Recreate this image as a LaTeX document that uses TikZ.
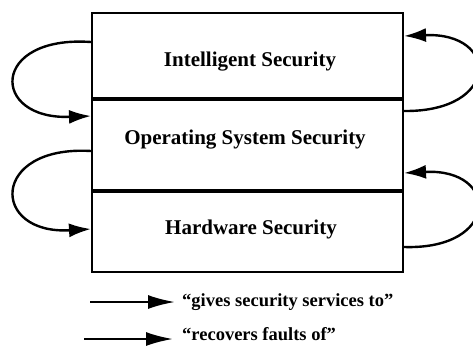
\documentclass[tikz,border=0pt]{standalone}
\usepackage{fontspec}
\setmainfont{Liberation Serif}
\usetikzlibrary{arrows.meta}
\begin{document}
\begin{tikzpicture}[x=1pt,y=-1pt,
  sect/.style={draw,line width=2pt,minimum width=311pt,inner sep=0pt},
  lbl/.style={font=\fontsize{21}{24}\selectfont\bfseries},
  arr/.style={line width=2.4pt,-{Latex[length=22pt,width=14pt]}},
  legarr/.style={line width=2.2pt,-{Latex[length=27pt,width=14pt]}},
  legtext/.style={anchor=base west,inner sep=0pt,font=\fontsize{18.5}{22}\selectfont\bfseries}]
\useasboundingbox (0,0) rectangle (473,349);
\node[sect,minimum height=85pt] (s1) at (247.5,55.5) {};
\node[sect,minimum height=92pt] (s2) at (247.5,144) {};
\node[sect,minimum height=82pt] (s3) at (247.5,231) {};
\node[lbl] (t1) at (250,62) {Intelligent Security};
\node[lbl] (t2) at (245,140) {Operating System Security};
\node[lbl] (t3) at (251,229) {Hardware Security};
\draw[line width=4pt] (s1.south west) -- (s1.south east);
\draw[line width=4pt] (s2.south west) -- (s2.south east);
% left arrows: gives security services to
\draw[arr] ([yshift=-30pt]s1.north west) .. controls (-10,35) and (-10,120) .. ([yshift=-19pt]s2.north west);
\draw[arr] ([yshift=-54pt]s2.north west) .. controls (-10,145) and (-10,235) .. ([yshift=-40pt]s3.north west);
% right arrows: recovers faults of
\draw[arr] ([yshift=-14pt]s2.north east) .. controls (500,112) and (500,32) .. ([yshift=-24pt]s1.north east);
\draw[arr] ([yshift=-58pt]s3.north east) .. controls (500,250) and (500,168) .. ([yshift=-76pt]s2.north east);
% legend
\coordinate (la1) at (90,302);
\coordinate (lb1) at (175,302);
\coordinate (la2) at (84,339);
\coordinate (lb2) at (173,339);
\draw[legarr] (la1) -- (lb1);
\draw[legarr] (la2) -- (lb2);
\node[legtext] (g1) at (182,306) {``gives security services to''};
\node[legtext] (g2) at (182,340) {``recovers faults of''};
\end{tikzpicture}
\end{document}
